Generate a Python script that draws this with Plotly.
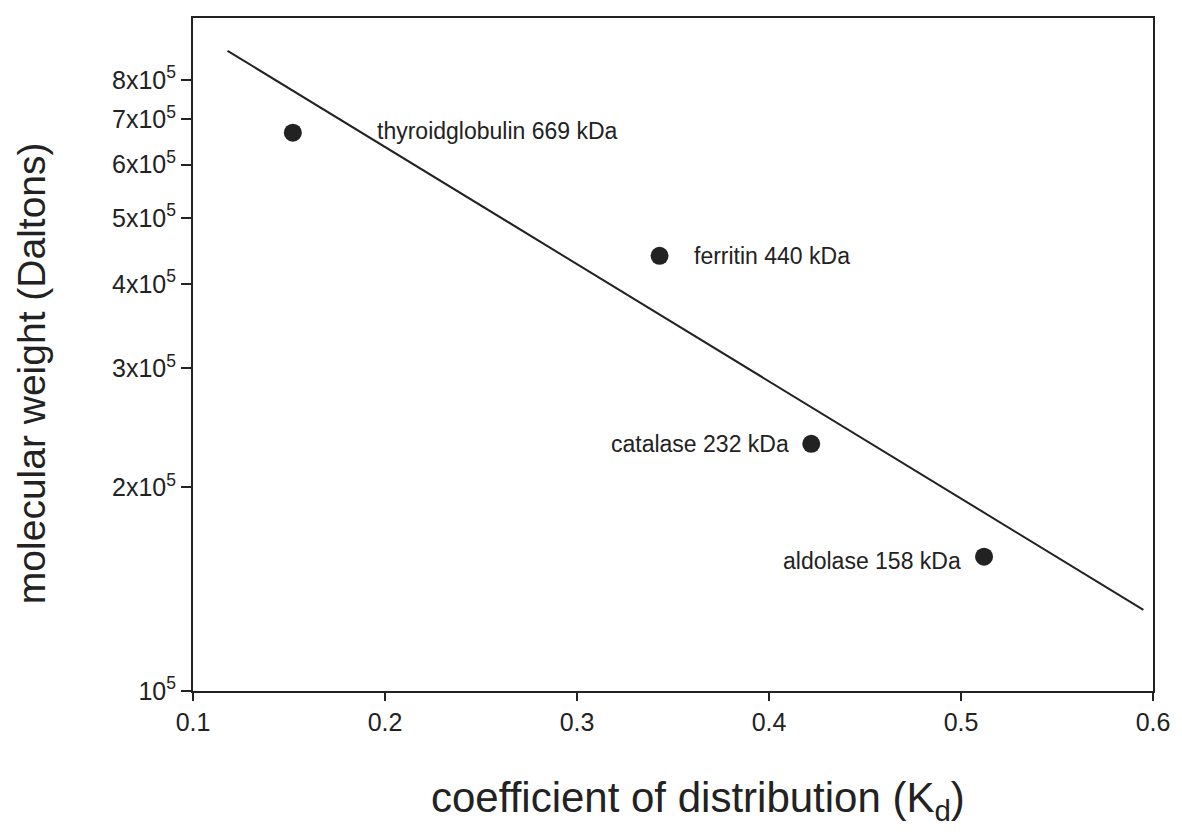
import math
import plotly.graph_objects as go

# data
proteins = ["thyroidglobulin", "ferritin", "catalase", "aldolase"]
kd = [0.152, 0.343, 0.422, 0.512]
mw_kda = [669, 440, 232, 158]
mw = [v * 1000 for v in mw_kda]

fit_x = [0.118, 0.595]
fit_y = [884000, 131800]

ytick_vals = [1e5, 2e5, 3e5, 4e5, 5e5, 6e5, 7e5, 8e5]
ytick_text = ["10<sup>5</sup>", "2x10<sup>5</sup>", "3x10<sup>5</sup>", "4x10<sup>5</sup>",
              "5x10<sup>5</sup>", "6x10<sup>5</sup>", "7x10<sup>5</sup>", "8x10<sup>5</sup>"]
xtick_vals = [0.1, 0.2, 0.3, 0.4, 0.5, 0.6]

x_title = "coefficient of distribution (K<sub>d</sub>)"
y_title = "molecular weight (Daltons)"

label_side = ["right", "right", "left", "left"]
label_shift = [(82, 2), (32, 0), (-20, 0), (-21, -4)]

font_family = "Liberation Sans, Arial, sans-serif"
ink = "#222222"

fig = go.Figure()
fig.add_trace(go.Scatter(x=fit_x, y=fit_y, mode="lines",
                         line=dict(color=ink, width=2), showlegend=False, hoverinfo="skip"))
fig.add_trace(go.Scatter(x=kd, y=mw, mode="markers",
                         marker=dict(color=ink, size=18), showlegend=False))

for name, x, y, v, side, (dx, dy) in zip(proteins, kd, mw, mw_kda, label_side, label_shift):
    fig.add_annotation(x=x, y=math.log10(y), text=f"{name} {v} kDa", showarrow=False,
                       xanchor="left" if side == "right" else "right",
                       xshift=dx, yshift=dy,
                       font=dict(family=font_family, size=23, color=ink))

# axis titles placed as annotations for exact positioning
fig.add_annotation(xref="paper", yref="paper", x=0.526, y=-0.162, text=x_title,
                   showarrow=False, xanchor="center", yanchor="middle",
                   font=dict(family=font_family, size=42, color=ink))
fig.add_annotation(xref="paper", yref="paper", x=-0.1686, y=0.4725, text=y_title,
                   showarrow=False, xanchor="center", yanchor="middle", textangle=-90,
                   font=dict(family=font_family, size=39, color=ink))

fig.update_layout(
    width=1182, height=837,
    margin=dict(l=193, r=22, t=18, b=146),
    plot_bgcolor="white", paper_bgcolor="white",
    font=dict(family=font_family, color=ink),
)
fig.update_xaxes(range=[0.1, 0.6], tickvals=xtick_vals, ticktext=[str(v) for v in xtick_vals],
                 showgrid=False, zeroline=False, showline=True, mirror=True,
                 linecolor=ink, linewidth=2, ticks="outside", ticklen=8, tickwidth=2, tickcolor=ink,
                 tickfont=dict(size=25, family=font_family, color=ink))
fig.update_yaxes(type="log", range=[5, 5.995], tickvals=ytick_vals, ticktext=ytick_text,
                 showgrid=False, zeroline=False, showline=True, mirror=True,
                 linecolor=ink, linewidth=2, ticks="outside", ticklen=10, tickwidth=2, tickcolor=ink,
                 tickfont=dict(size=25, family=font_family, color=ink))

fig.write_html("out.html")
